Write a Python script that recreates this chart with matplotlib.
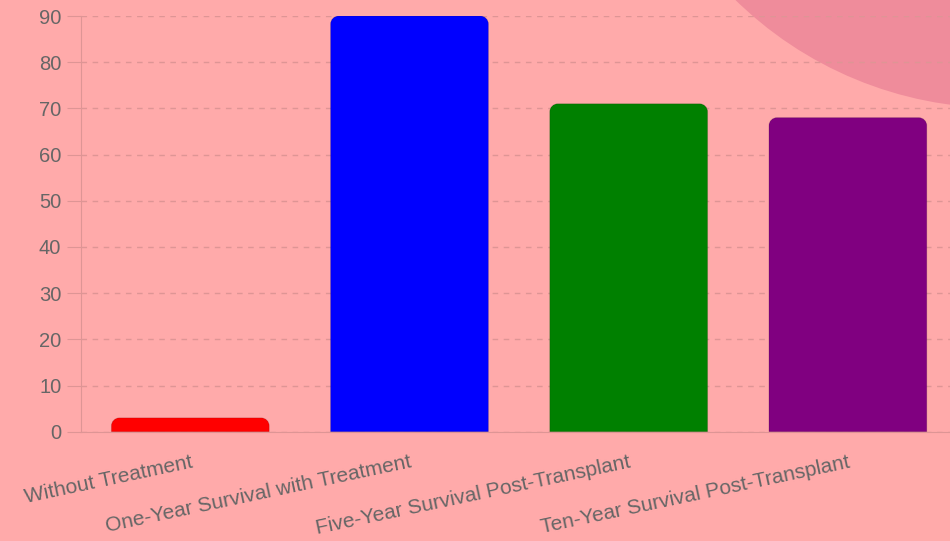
import numpy as np
import matplotlib.pyplot as plt
from matplotlib.patches import Circle, PathPatch
from matplotlib.path import Path

# data
categories = ["Without Treatment", "One-Year Survival with Treatment",
              "Five-Year Survival Post-Transplant", "Ten-Year Survival Post-Transplant"]
values = [3, 90, 71, 68]
colors = ["#ff0000", "#0000ff", "#008000", "#800080"]
yticks = [0, 10, 20, 30, 40, 50, 60, 70, 80, 90]

plt.rcParams['font.family'] = ['Liberation Sans', 'DejaVu Sans']

bg = "#ffaaaa"
gridc = "#de9595"
textc = "#666666"

fig = plt.figure(figsize=(9.5, 5.41), dpi=100, facecolor=bg)

# background blob in the top right corner
blob = Circle((10.0, 8.11), 3.78, transform=fig.dpi_scale_trans,
              facecolor="#ef8c9b", edgecolor="none", zorder=-1)
fig.add_artist(blob)

ax = fig.add_axes([0.08495, 0.2020, 0.9229, 0.7684])
ax.set_facecolor("none")

x = np.arange(len(categories))
bars = ax.bar(x, values, width=0.72, color=colors)
ax.set_xlim(-0.5, len(categories) - 0.5)
ax.set_ylim(0, 90)

# rounded top corners (8 px) - convert pixel radius to data units
fig.canvas.draw()
p0 = ax.transData.transform((0, 0))
p1 = ax.transData.transform((1, 1))
rx = 8 / (p1[0] - p0[0])
ry = 8 / (p1[1] - p0[1])
k = 0.5523
for b, c in zip(bars, colors):
    x0, w, h = b.get_x(), b.get_width(), b.get_height()
    x1 = x0 + w
    r_y = min(ry, h)
    verts = [(x0, 0), (x0, h - r_y),
             (x0, h - r_y + k * r_y), (x0 + rx - k * rx, h), (x0 + rx, h),
             (x1 - rx, h),
             (x1 - rx + k * rx, h), (x1, h - r_y + k * r_y), (x1, h - r_y),
             (x1, 0), (x0, 0)]
    codes = [Path.MOVETO, Path.LINETO,
             Path.CURVE4, Path.CURVE4, Path.CURVE4,
             Path.LINETO,
             Path.CURVE4, Path.CURVE4, Path.CURVE4,
             Path.LINETO, Path.CLOSEPOLY]
    ax.add_patch(PathPatch(Path(verts, codes), facecolor=c,
                           edgecolor=(0, 0, 0, 0.12), lw=0.7, zorder=2))
    b.set_visible(False)

ax.set_yticks(yticks)
ax.grid(axis='y', color=gridc, linestyle=(0, (4, 4)), linewidth=1.0)
ax.set_axisbelow(True)
ax.tick_params(axis='y', length=10, width=0.8, color=gridc, pad=4,
               labelsize=14.5, labelcolor=textc)
ax.set_xticks(x)
ax.set_xticklabels(categories)
ax.tick_params(axis='x', length=0, pad=15, labelsize=15, labelcolor=textc)
plt.setp(ax.get_xticklabels(), rotation=12, ha='right', va='top',
         rotation_mode='anchor')

for s in ['top', 'right']:
    ax.spines[s].set_visible(False)
for s in ['left', 'bottom']:
    ax.spines[s].set_color(gridc)
    ax.spines[s].set_linewidth(0.8)

fig.savefig("out.png", dpi=100, facecolor=bg)
